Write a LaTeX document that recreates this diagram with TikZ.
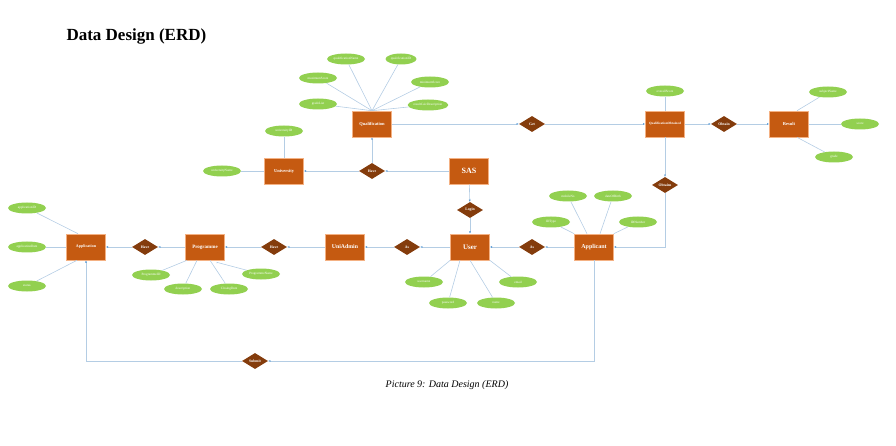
\documentclass[tikz,border=0pt]{standalone}
\usepackage{fontspec}
\setmainfont{Liberation Serif}
\usetikzlibrary{shapes.geometric,arrows.meta}
\definecolor{entfill}{HTML}{C55A11}
\definecolor{entborder}{HTML}{F4B183}
\definecolor{relfill}{HTML}{843C0C}
\definecolor{attrfill}{HTML}{92D050}
\definecolor{linec}{HTML}{B4CDE4}
\definecolor{tipc}{HTML}{5B9BD5}
\tikzset{
  ent/.style={rectangle, fill=entfill, draw=entborder, line width=0.6pt, minimum width=39pt, minimum height=26pt, inner sep=0pt, text=white, font=\bfseries\fontsize{4.5}{5}\selectfont},
  rel/.style={diamond, fill=relfill, minimum width=26pt, minimum height=16pt, inner sep=0pt, text=white, font=\bfseries\fontsize{3.8}{4}\selectfont},
  attr/.style={ellipse, fill=attrfill, minimum width=38pt, minimum height=11pt, inner sep=0pt, text=white, font=\fontsize{3.3}{3.5}\selectfont},
  conn/.style={draw=linec, line width=0.6pt},
  arr/.style={conn, -{Latex[length=2.2pt,width=2pt,color=tipc]}}
}
\begin{document}
\begin{tikzpicture}[x=1pt,y=-1pt]
\useasboundingbox (0,0) rectangle (896,446);
% title and caption
\node[anchor=west, font=\bfseries\fontsize{17}{20}\selectfont] (title) at (63,36) {Data Design (ERD)};
\node[font=\itshape\fontsize{10}{12}\selectfont] (caption) at (447,385) {Picture 9: Data Design (ERD)};

% entities
\node[ent] (qual) at (372,124) {Qualification};
\node[ent, font=\bfseries\fontsize{3.3}{4}\selectfont] (qobt) at (665,124) {QualificationObtained};
\node[ent] (result) at (789,124) {Result};
\node[ent] (univ) at (284,171) {University};
\node[ent, font=\bfseries\fontsize{8}{9}\selectfont] (sas) at (469,171) {SAS};
\node[ent, font=\bfseries\fontsize{7}{8}\selectfont] (user) at (470,247) {User};
\node[ent, font=\bfseries\fontsize{5.8}{6}\selectfont] (uniadmin) at (345,247) {UniAdmin};
\node[ent, font=\bfseries\fontsize{6}{7}\selectfont] (applicant) at (594,247) {Applicant};
\node[ent, font=\bfseries\fontsize{4}{5}\selectfont] (application) at (86,247) {Application};
\node[ent, font=\bfseries\fontsize{5}{6}\selectfont] (programme) at (205,247) {Programme};

% relationships
\node[rel] (get) at (532,124) {Get};
\node[rel] (obtain) at (724,124) {Obtain};
\node[rel] (obtains) at (665,185) {Obtains};
\node[rel] (haveq) at (372,171) {Have};
\node[rel] (login) at (470,210) {Login};
\node[rel] (asl) at (407,247) {As};
\node[rel] (asr) at (532,247) {As};
\node[rel] (havep) at (274,247) {Have};
\node[rel] (havea) at (145,247) {Have};
\node[rel] (submit) at (255,361) {Submit};

% attributes
\node[attr] (qname) at (346,59) {qualificationName};
\node[attr, minimum width=31pt] (qid) at (401,59) {qualificationID};
\node[attr] (qmax) at (318,78) {maximumScore};
\node[attr] (qmin) at (430,82) {minimumScore};
\node[attr] (qgrade) at (318,104) {gradeList};
\node[attr] (qcalc) at (428,105) {resultCalcDescription};
\node[attr] (oscore) at (665,91) {overallScore};
\node[attr] (rsubj) at (828,92) {subjectName};
\node[attr] (rscore) at (860,124) {score};
\node[attr] (rgrade) at (834,157) {grade};
\node[attr] (uid) at (284,131) {universityID};
\node[attr] (uname) at (222,171) {universityName};
\node[attr] (uuser) at (424,282) {username};
\node[attr] (upass) at (448,303) {password};
\node[attr] (unm) at (496,303) {name};
\node[attr] (umail) at (518,282) {email};
\node[attr] (aidt) at (551,222) {IDType};
\node[attr] (amob) at (568,196) {mobileNo};
\node[attr] (adob) at (613,196) {dateOfBirth};
\node[attr] (aidn) at (638,222) {IDNumber};
\node[attr] (apid) at (27,208) {applicationID};
\node[attr] (apdate) at (27,247) {applicationDate};
\node[attr] (apstat) at (27,286) {status};
\node[attr] (pid) at (151,275) {ProgrammeID};
\node[attr] (pdesc) at (183,289) {description};
\node[attr] (pclose) at (229,289) {ClosingDate};
\node[attr] (pname) at (261,274) {ProgrammeName};

% attribute lines
\foreach \a in {qname,qid,qmax,qmin,qgrade,qcalc} \draw[conn] (\a) -- (qual.north);
\draw[conn] (oscore) -- (qobt);
\draw[conn] (rsubj) -- ([xshift=8pt]result.north);
\draw[conn] (rscore) -- (result);
\draw[conn] (rgrade) -- ([xshift=8pt]result.south);
\draw[conn] (uid) -- (univ);
\draw[conn] (uname) -- (univ);
\draw[conn] (uuser) -- (user.south west);
\draw[conn] (upass) -- ([xshift=-10pt]user.south);
\draw[conn] (unm) -- (user.south);
\draw[conn] (umail) -- (user.south east);
\draw[conn] (aidt) -- (applicant.north west);
\draw[conn] (amob) -- ([xshift=-7pt]applicant.north);
\draw[conn] (adob) -- ([xshift=6pt]applicant.north);
\draw[conn] (aidn) -- (applicant.north east);
\draw[conn] (apid) -- ([xshift=-8pt]application.north);
\draw[conn] (apdate) -- (application);
\draw[conn] (apstat) -- ([xshift=-9pt]application.south);
\draw[conn] (pid) -- ([xshift=-18pt]programme.south);
\draw[conn] (pdesc) -- ([xshift=-8pt]programme.south);
\draw[conn] (pclose) -- ([xshift=5pt]programme.south);
\draw[conn] (pname) -- ([xshift=-8pt,yshift=-2pt]programme.south east) -- ([xshift=-8pt,yshift=-3pt]programme.south east);

% relationship connectors
\draw[arr] (qual) -- (get);
\draw[arr] (get) -- (qobt);
\draw[arr] (qobt) -- (obtain);
\draw[arr] (obtain) -- (result);
\draw[arr] (qobt) -- (obtains);
\draw[arr] (obtains.south) |- (applicant.east);
\draw[arr] (sas) -- (haveq);
\draw[arr] (haveq) -- (univ);
\draw[arr] (haveq) -- (qual);
\draw[arr] (sas) -- (login);
\draw[arr] (login) -- (user);
\draw[arr] (user) -- (asl);
\draw[arr] (asl) -- (uniadmin);
\draw[arr] (applicant) -- (asr);
\draw[arr] (asr) -- (user);
\draw[arr] (uniadmin) -- (havep);
\draw[arr] (havep) -- (programme);
\draw[arr] (programme) -- (havea);
\draw[arr] (havea) -- (application);
\coordinate (sbr) at (applicant.south |- submit);
\coordinate (sbl) at (application.south |- submit);
\draw[arr] (applicant.south) -- (sbr) -- (submit);
\draw[arr] (submit) -- (sbl) -- (application.south);
\end{tikzpicture}
\end{document}
